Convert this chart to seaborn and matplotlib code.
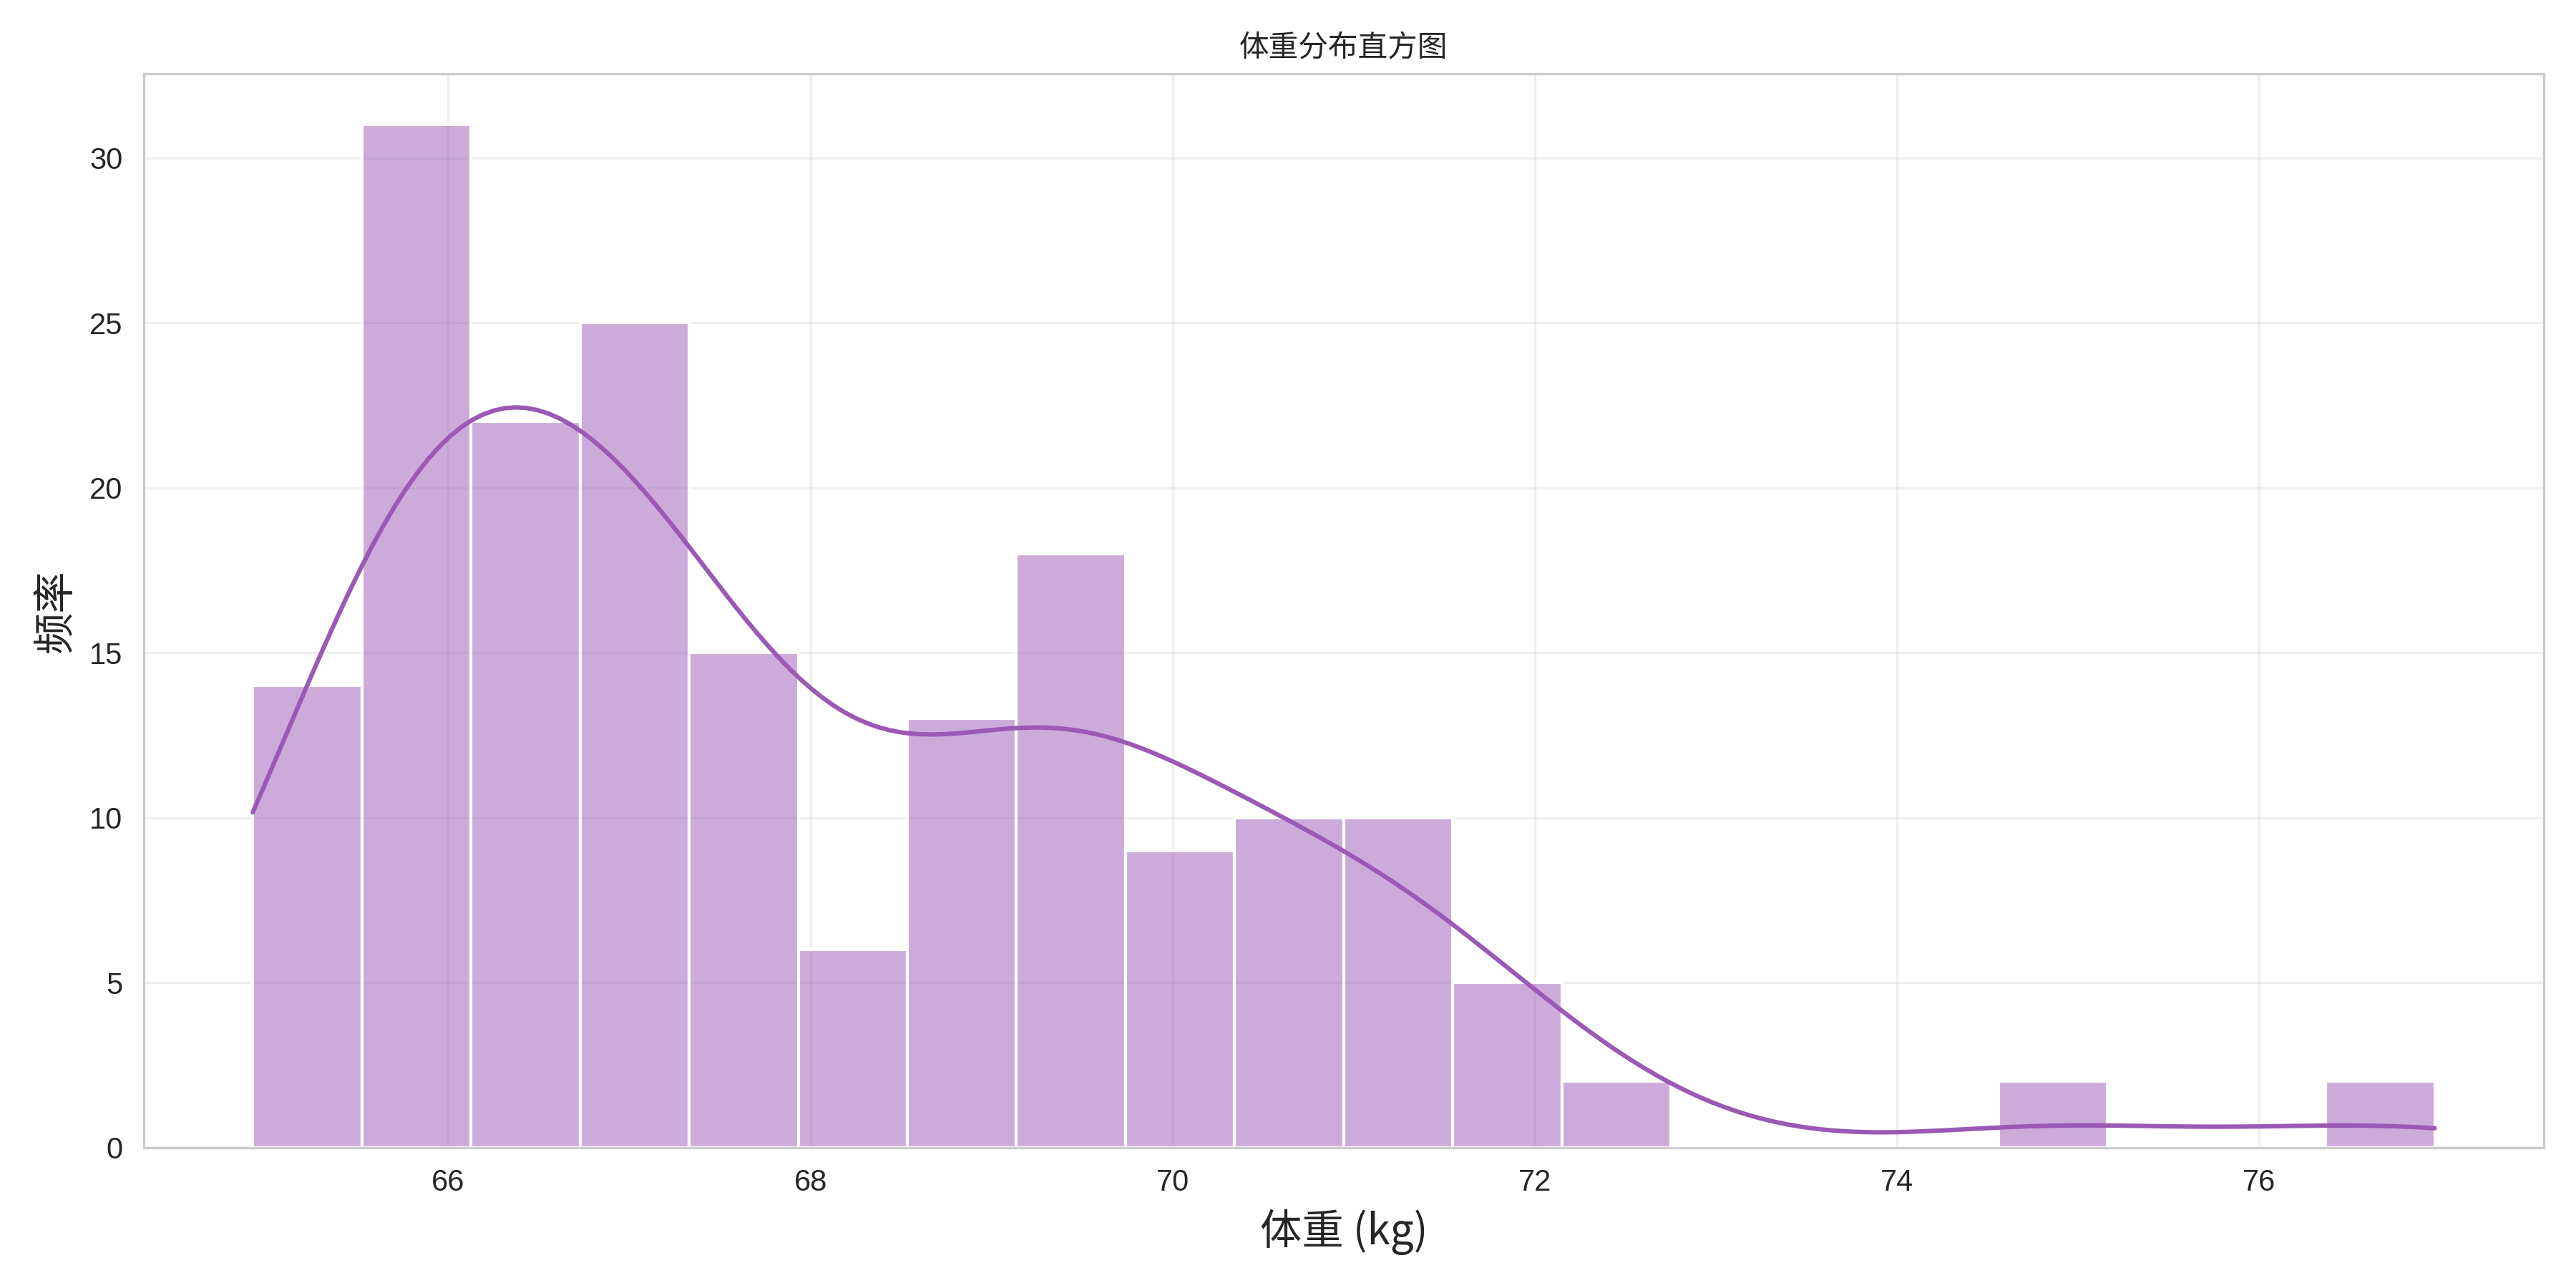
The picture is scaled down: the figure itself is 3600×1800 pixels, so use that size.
import matplotlib
matplotlib.use("Agg")
import matplotlib.pyplot as plt
import numpy as np
import pandas as pd
import seaborn as sns

# Histogram: 20 equal bins between the data min and max
weight_min = 64.92
weight_max = 76.97
bin_counts = [14, 31, 22, 25, 15, 6, 13, 18, 9, 10,
              10, 5, 2, 0, 0, 0, 2, 0, 0, 2]

TITLE = "体重分布直方图"
XLABEL = "体重 (kg)"
YLABEL = "频率"
COLOR = "#9b59b6"
CJK = ["Noto Sans CJK SC", "DejaVu Sans"]


def build_frame() -> pd.DataFrame:
    """One row per bin (at its centre) plus zero-weight rows at min/max."""
    edges = np.linspace(weight_min, weight_max, len(bin_counts) + 1)
    centres = (edges[:-1] + edges[1:]) / 2
    values = np.concatenate([[weight_min], centres, [weight_max]])
    counts = np.concatenate([[0], bin_counts, [0]])
    return pd.DataFrame({"weight": values, "count": counts})


def main() -> None:
    sns.set_style("whitegrid")
    plt.rcParams["font.family"] = ["Liberation Sans", "Noto Sans CJK SC", "DejaVu Sans"]
    plt.rcParams["axes.unicode_minus"] = False

    df = build_frame()
    fig, ax = plt.subplots(figsize=(12, 6))

    sns.histplot(
        data=df,
        x="weight",
        weights="count",
        bins=len(bin_counts),
        kde=True,
        kde_kws={"bw_adjust": 0.52},
        color=COLOR,
        alpha=0.5,
        ax=ax,
    )

    ax.set_title(TITLE, fontsize=10, family=CJK)
    ax.set_xlabel(XLABEL, fontsize=14, family=CJK)
    ax.set_ylabel(YLABEL, fontsize=14, family=CJK)
    ax.tick_params(labelsize=10)
    ax.grid(True, alpha=0.3)

    plt.tight_layout()
    plt.savefig("out.png", dpi=300)
    plt.close()


if __name__ == "__main__":
    main()
